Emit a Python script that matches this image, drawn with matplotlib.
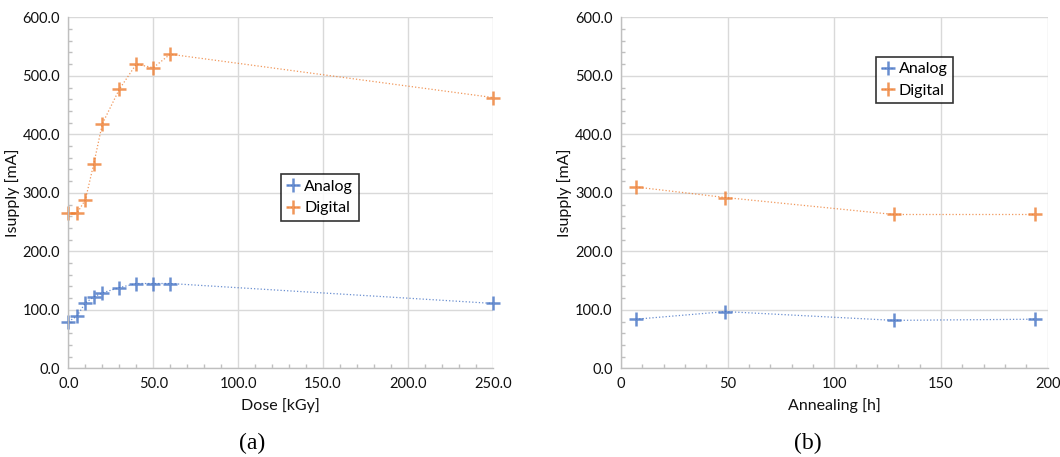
import matplotlib
matplotlib.use("Agg")
import matplotlib.pyplot as plt
from matplotlib.ticker import MultipleLocator, FormatStrFormatter

plt.rcParams['font.family'] = ['Lato', 'DejaVu Sans']

# (a) Dose
dose = [0, 5, 10, 15, 20, 30, 40, 50, 60, 250]
analog_dose = [80, 89, 112, 122, 129, 138, 145, 145, 145, 111]
digital_dose = [265, 265, 288, 350, 418, 477, 520, 514, 537, 463]

# (b) Annealing
anneal = [7, 49, 128, 194]
analog_anneal = [84, 97, 82, 84]
digital_anneal = [310, 292, 263, 263]

labels = ["Analog", "Digital"]
colors = ["#4472C4", "#ED7D31"]

fig = plt.figure(figsize=(10.6, 4.57), dpi=100)
axA = fig.add_axes([0.0645, 0.194, 0.4003, 0.768])
axB = fig.add_axes([0.5858, 0.194, 0.4025, 0.768])

def style(ax, xmax, xmajor, xminor, xfmt):
    ax.set_xlim(0, xmax)
    ax.set_ylim(0, 600)
    ax.xaxis.set_major_locator(MultipleLocator(xmajor))
    ax.xaxis.set_minor_locator(MultipleLocator(xminor))
    ax.yaxis.set_major_locator(MultipleLocator(100))
    ax.yaxis.set_minor_locator(MultipleLocator(20))
    ax.xaxis.set_major_formatter(FormatStrFormatter(xfmt))
    ax.yaxis.set_major_formatter(FormatStrFormatter('%.1f'))
    ax.grid(True, which='major', color='#d9d9d9', linewidth=1)
    ax.set_axisbelow(True)
    for s in ['top', 'right']:
        ax.spines[s].set_visible(False)
    for s in ['left', 'bottom']:
        ax.spines[s].set_color('#bfbfbf')
        ax.spines[s].set_linewidth(1)
    ax.tick_params(which='major', length=0, labelsize=10.5, colors='#111111', pad=6)
    ax.tick_params(which='minor', direction='in', length=3, color='#bfbfbf', width=1)
    ax.set_ylabel('Isupply [mA]', fontsize=11.5, labelpad=2, color='#111111')

style(axA, 250, 50, 10, '%.1f')
style(axB, 200, 50, 10, '%d')

for ax, x, ys in [(axA, dose, [analog_dose, digital_dose]),
                  (axB, anneal, [analog_anneal, digital_anneal])]:
    for y, lab, c in zip(ys, labels, colors):
        ax.plot(x, y, linestyle=':', linewidth=0.9, color=c, alpha=0.8,
                marker='+', markersize=10, markeredgewidth=1.8,
                markeredgecolor=c, label=lab, clip_on=False)

axA.set_xlabel('Dose [kGy]', fontsize=11.5, labelpad=5, color='#111111')
axB.set_xlabel('Annealing [h]', fontsize=11.5, labelpad=5, color='#111111')

for ax, loc in [(axA, (0.501, 0.42)), (axB, (0.597, 0.755))]:
    leg = ax.legend(loc='lower left', bbox_to_anchor=loc, fontsize=11.5,
                    frameon=True, fancybox=False, edgecolor='black',
                    handlelength=0.8, handletextpad=0.3, borderpad=0.35,
                    labelspacing=0.45, borderaxespad=0)
    leg.get_frame().set_linewidth(1.2)

fig.text(252 / 1060, 1 - 443 / 457, '(a)', family='Liberation Serif',
         fontsize=17, ha='center', va='center')
fig.text(808 / 1060, 1 - 443 / 457, '(b)', family='Liberation Serif',
         fontsize=17, ha='center', va='center')

fig.savefig('out.png', dpi=100)
